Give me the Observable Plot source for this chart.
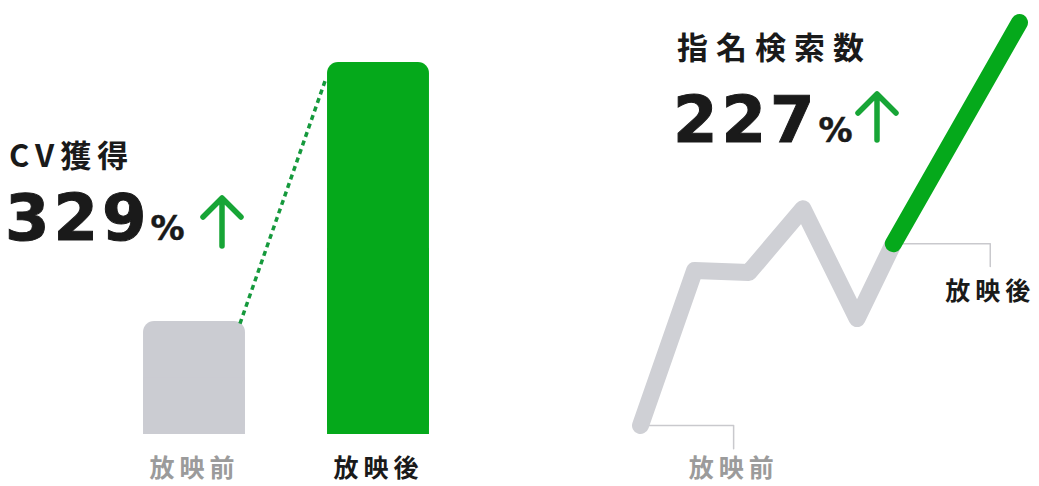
<!DOCTYPE html>
<html><head><meta charset="utf-8">
<script src="https://cdn.jsdelivr.net/npm/d3@7"></script>
<script src="https://cdn.jsdelivr.net/npm/@observablehq/plot@0.6"></script>
<style>
html,body{margin:0;padding:0;background:#fff;}
#root{position:relative;width:1039px;height:486px;overflow:hidden;}
#root > svg{position:absolute;top:0;margin:0;}
.lbl text{letter-spacing:5px;}
</style></head><body><div id="root"></div>
<script>
// ---- data ----
const barCategories = ["放映前", "放映後"];
const barValues = [100, 329];
const cvTitle = "CV獲得";
const cvPercent = "329";
const searchTitle = "指名検索数";
const searchPercent = "227";
const lineX = [0, 1, 2, 3, 4, 4.67];
const lineY = [8, 43.4, 42.9, 57.5, 32.4, 49.5];
const afterX = [4.67, 7];
const afterY = [49.5, 100];
const lineLabels = ["放映前", "放映後"];

// ---- styles ----
const JP = "'Noto Sans CJK JP', sans-serif";
const NUM = "'DejaVu Sans', sans-serif";
const GREEN = "#05a91b", GRAY = "#cbccd2", LINEGRAY = "#cfd0d5", DASH = "#15993c";
const ARROW = "#17a536", INK = "#1a1a1a", MUTED = "#9b9b9b", LEADER = "#c9c9cd";

const root = document.getElementById("root");

// ---- left: bar chart ----
const bars = barCategories.map((c, i) => ({c, i, v: barValues[i], fill: i ? GREEN : GRAY}));
const half = 0.277;
const left = Plot.plot({
  width: 520, height: 486,
  marginLeft: 102, marginRight: 50, marginTop: 62, marginBottom: 52,
  x: {domain: [-0.5, 1.5], axis: null},
  y: {domain: [0, barValues[1]], axis: null},
  className: "lbl",
  style: {fontFamily: JP, background: "transparent", overflow: "visible"},
  marks: [
    Plot.rectY(bars, {x1: d => d.i - half, x2: d => d.i + half, y1: 0, y2: "v", fill: "fill", rx: 11}),
    Plot.rectY(bars, {x1: d => d.i - half, x2: d => d.i + half, y1: 0, y2: d => d.v / 2, fill: "fill"}),
    Plot.link([{a: bars[0], b: bars[1]}], {
      x1: d => d.a.i + half - 0.03, y1: d => d.a.v * 0.98,
      x2: d => d.b.i - half - 0.01, y2: d => d.b.v * 0.955,
      stroke: DASH, strokeWidth: 3.5, strokeDasharray: "5 4"
    }),
    Plot.text(bars, {x: "i", y: 0, text: "c", dy: 34, fontSize: 25, fontWeight: 700,
      fill: d => d.i ? INK : MUTED})
  ]
});
left.style.left = "0px";
root.appendChild(left);

// ---- right: line chart ----
const before = lineX.map((x, i) => ({x, y: lineY[i]}));
const after = afterX.map((x, i) => ({x, y: afterY[i]}));
const p0 = before[0], p5 = before[before.length - 1];
const lead0x = 1.72, lead0y = 2.7, lead1x = 6.46, lead1y = 44.3;
const leader0 = [p0, {x: lead0x, y: p0.y}, {x: lead0x, y: lead0y}];
const leader1 = [p5, {x: lead1x, y: p5.y}, {x: lead1x, y: lead1y}];
const right = Plot.plot({
  width: 519, height: 486,
  marginLeft: 120, marginRight: 20, marginTop: 22, marginBottom: 26,
  x: {domain: [0, 7], axis: null},
  y: {domain: [0, 100], axis: null},
  className: "lbl",
  style: {fontFamily: JP, background: "transparent", overflow: "visible"},
  marks: [
    Plot.line(leader0, {x: "x", y: "y", stroke: LEADER, strokeWidth: 1.5}),
    Plot.line(leader1, {x: "x", y: "y", stroke: LEADER, strokeWidth: 1.5}),
    Plot.line(before, {x: "x", y: "y", stroke: LINEGRAY, strokeWidth: 17, strokeLinecap: "round", strokeLinejoin: "round"}),
    Plot.line(after, {x: "x", y: "y", stroke: GREEN, strokeWidth: 17, strokeLinecap: "round", strokeLinejoin: "round"}),
    Plot.text([{x: lead0x, y: lead0y, t: lineLabels[0]}], {x: "x", y: "y", text: "t", dy: 20, fontSize: 25, fontWeight: 700, fill: MUTED}),
    Plot.text([{x: lead1x, y: lead1y, t: lineLabels[1]}], {x: "x", y: "y", text: "t", dy: 26, fontSize: 25, fontWeight: 700, fill: INK})
  ]
});
right.style.left = "520px";
root.appendChild(right);

// ---- headline texts ----
const ov = d3.create("svg").attr("width", 1039).attr("height", 486)
  .style("position", "absolute").style("left", "0px").style("top", "0px");
function headline(x, yTitle, title, yNum, num, size, spacing) {
  ov.append("text").attr("x", x).attr("y", yTitle)
    .attr("font-family", JP).attr("font-weight", 700).attr("font-size", size)
    .attr("letter-spacing", spacing).attr("fill", INK).text(title);
  const t = ov.append("text").attr("x", x - 4).attr("y", yNum)
    .attr("font-family", NUM).attr("font-weight", 700).attr("font-size", 64)
    .attr("letter-spacing", 4).attr("fill", INK)
    .attr("stroke", INK).attr("stroke-width", 1);
  t.append("tspan").text(num);
  t.append("tspan").attr("font-size", 34).attr("letter-spacing", 0).attr("stroke-width", 0.5).text("%");
}
headline(9, 167, cvTitle, 240, cvPercent, 31, 6);
headline(677, 59, searchTitle, 142, searchPercent, 31, 8);
function arrow(cx, top, bottom, w) {
  ov.append("path")
    .attr("d", `M${cx},${bottom}V${top + 2}M${cx - w},${top + w}L${cx},${top}L${cx + w},${top + w}`)
    .attr("fill", "none").attr("stroke", ARROW).attr("stroke-width", 5.5)
    .attr("stroke-linecap", "round").attr("stroke-linejoin", "round");
}
arrow(222, 198, 246, 19);
arrow(877, 94, 140, 19);
root.appendChild(ov.node());
</script></body></html>
